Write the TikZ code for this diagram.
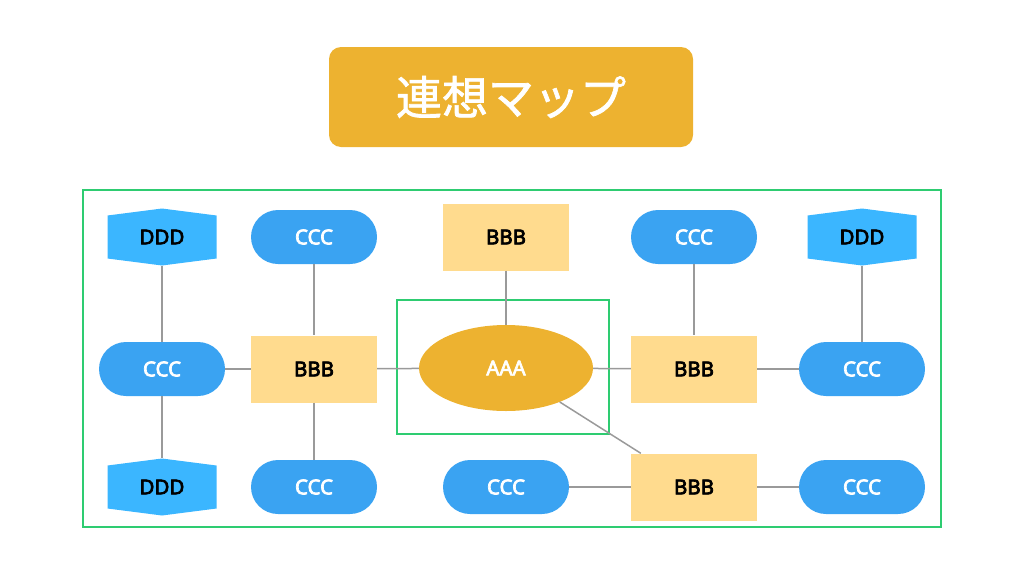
\documentclass[tikz,border=0pt]{standalone}
\usepackage{fontspec}
\usetikzlibrary{shapes.geometric}
\setmainfont{Noto Sans}[AutoFakeBold=3.5]
\newfontfamily\jpfont{Noto Sans CJK JP}[AutoFakeBold=1.5]
\definecolor{gold}{HTML}{EDB230}
\definecolor{pale}{HTML}{FFDB8E}
\definecolor{pillblue}{HTML}{3AA3F2}
\definecolor{skyblue}{HTML}{3BB6FF}
\definecolor{framegreen}{HTML}{2ECC71}
\definecolor{linegray}{HTML}{9A9A9A}
\begin{document}
\begin{tikzpicture}[x=1pt, y=-1pt,
    ccc node/.style={rectangle, rounded corners=27pt, fill=pillblue, text=white, font=\fontsize{20.5}{22}\selectfont\bfseries, minimum width=126pt, minimum height=54pt, inner sep=0pt},
    bbb node/.style={rectangle, fill=pale, text=black, font=\fontsize{20.5}{22}\selectfont\bfseries, minimum width=126pt, minimum height=67pt, inner sep=0pt},
    ddd node/.style={rectangle, text=black, font=\fontsize{20.5}{22}\selectfont\bfseries, minimum width=109pt, minimum height=57pt, inner sep=0pt,
        path picture={\fill[skyblue] ([yshift=-7pt]path picture bounding box.north west) -- (path picture bounding box.north) -- ([yshift=-7pt]path picture bounding box.north east) -- ([yshift=7pt]path picture bounding box.south east) -- (path picture bounding box.south) -- ([yshift=7pt]path picture bounding box.south west) -- cycle;}},
    link/.style={draw=linegray, line width=1.5pt}]

    \useasboundingbox (0,0) rectangle (1024,576);

    % titre
    \node[rectangle, rounded corners=12pt, fill=gold, text=white, minimum width=364pt, minimum height=100pt, font=\jpfont\fontsize{46}{50}\selectfont\bfseries] (title) at (511,97) {連想マップ};

    % cadres
    \draw[draw=framegreen, line width=1.5pt] (83,190) rectangle (941,527);
    \draw[draw=framegreen, line width=1.5pt] (397,300) rectangle (609,434);

    % centre
    \node[ellipse, fill=gold, text=white, minimum width=174pt, minimum height=86pt, inner sep=0pt, font=\fontsize{20.5}{22}\selectfont\bfseries] (a) at (506,368) {AAA};

    % ligne du haut
    \node[ddd node] (d1) at (162,237) {DDD};
    \node[ccc node] (c1) at (314,237) {CCC};
    \node[bbb node] (b1) at (506,237) {BBB};
    \node[ccc node] (c2) at (694,237) {CCC};
    \node[ddd node] (d2) at (862,237) {DDD};

    % ligne du milieu
    \node[ccc node] (c3) at (162,369) {CCC};
    \node[bbb node] (b2) at (314,369) {BBB};
    \node[bbb node] (b3) at (694,369) {BBB};
    \node[ccc node] (c4) at (862,369) {CCC};

    % ligne du bas
    \node[ddd node] (d3) at (162,487) {DDD};
    \node[ccc node] (c5) at (314,487) {CCC};
    \node[ccc node] (c6) at (506,487) {CCC};
    \node[bbb node] (b4) at (694,487) {BBB};
    \node[ccc node] (c7) at (862,487) {CCC};

    % liens
    \draw[link] (d1) -- (c3);
    \draw[link] (c3) -- (d3);
    \draw[link] (c3) -- (b2);
    \draw[link] (c1) -- (b2);
    \draw[link] (b2) -- (c5);
    \draw[link] (b2) -- (a);
    \draw[link] (b1) -- (a);
    \draw[link] (a) -- (b3);
    \draw[link] (c2) -- (b3);
    \draw[link] (b3) -- (c4);
    \draw[link] (d2) -- (c4);
    \draw[link] (a) -- (b4);
    \draw[link] (c6) -- (b4);
    \draw[link] (b4) -- (c7);
\end{tikzpicture}
\end{document}
